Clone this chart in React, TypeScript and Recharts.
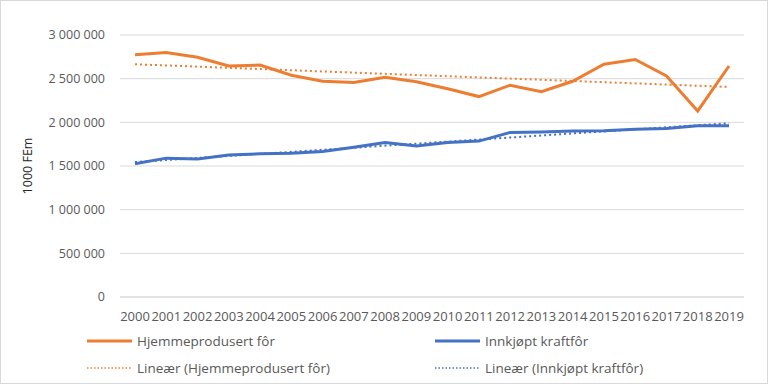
import React from 'react';
import { LineChart, Line, XAxis, YAxis, CartesianGrid, ReferenceLine } from 'recharts';

const years = ['2000','2001','2002','2003','2004','2005','2006','2007','2008','2009','2010','2011','2012','2013','2014','2015','2016','2017','2018','2019'];
const homeProduced = [2775000, 2800000, 2745000, 2645000, 2655000, 2540000, 2470000, 2455000, 2515000, 2465000, 2385000, 2295000, 2425000, 2350000, 2470000, 2665000, 2720000, 2530000, 2130000, 2645000];
const purchasedFeed = [1525000, 1590000, 1580000, 1625000, 1640000, 1645000, 1665000, 1715000, 1770000, 1730000, 1770000, 1785000, 1885000, 1890000, 1900000, 1905000, 1920000, 1930000, 1960000, 1960000];
const trendHomeEnds = [2665000, 2405000];
const trendPurchasedEnds = [1545000, 1990000];
const yTicks = [0, 500000, 1000000, 1500000, 2000000, 2500000, 3000000];

const seriesNames = ['Hjemmeprodusert fôr', 'Innkjøpt kraftfôr', 'Lineær (Hjemmeprodusert fôr)', 'Lineær (Innkjøpt kraftfôr)'];

const data = years.map((y, i) => ({ year: y, home: homeProduced[i], bought: purchasedFeed[i] }));

const ORANGE = '#ED7D31';
const BLUE = '#4472C4';
const FONT = '"Open Sans", "Liberation Sans", sans-serif';

const fmt = (v: number) => String(v).replace(/\B(?=(\d{3})+(?!\d))/g, ' ');

function LegendItem({ color, dashed, label, left, top }: { color: string; dashed: boolean; label: string; left: number; top: number }) {
  return (
    <div style={{ position: 'absolute', left, top, display: 'flex', alignItems: 'center', fontFamily: FONT, fontSize: 13.5, color: '#595959', whiteSpace: 'nowrap', lineHeight: '18px' }}>
      <svg width={46} height={6} style={{ marginRight: 5 }}>
        <line x1={1} y1={3} x2={46} y2={3} stroke={color} strokeWidth={dashed ? 1.5 : 3} strokeDasharray={dashed ? '1.5 2' : undefined} />
      </svg>
      <span>{label}</span>
    </div>
  );
}

export default function App() {
  return (
    <div style={{ position: 'fixed', left: 0, top: 0, width: 768, height: 384, background: '#fff', border: '1px solid #d9d9d9', boxSizing: 'border-box', overflow: 'hidden' }}>
      <div style={{ position: 'absolute', left: -1, top: -1 }}>
        <LineChart width={768} height={384} data={data} margin={{ top: 35, right: 24, bottom: 57, left: 0 }}>
          <CartesianGrid vertical={false} stroke="#d9d9d9" />
          <XAxis
            dataKey="year"
            interval={0}
            tickLine={false}
            axisLine={{ stroke: '#d9d9d9' }}
            height={30}
            tickMargin={9}
            padding={{ left: 15, right: 15 }}
            tick={{ fontFamily: FONT, fontSize: 13, fill: '#595959' }}
          />
          <YAxis
            width={120}
            domain={[0, 3000000]}
            ticks={yTicks}
            tickFormatter={fmt}
            axisLine={false}
            tickLine={false}
            tickMargin={9}
            tick={{ fontFamily: FONT, fontSize: 12.5, fill: '#595959' }}
            label={{ value: '1000 FEm', angle: -90, position: 'center', dx: -32, style: { fontFamily: FONT, fontSize: 12.5, fill: '#262626', textAnchor: 'middle' } }}
          />
          <Line type="linear" dataKey="home" name={seriesNames[0]} stroke={ORANGE} strokeWidth={3} dot={false} isAnimationActive={false} />
          <Line type="linear" dataKey="bought" name={seriesNames[1]} stroke={BLUE} strokeWidth={3} dot={false} isAnimationActive={false} />
          <ReferenceLine
            segment={[{ x: years[0], y: trendHomeEnds[0] }, { x: years[years.length - 1], y: trendHomeEnds[1] }]}
            stroke={ORANGE}
            strokeWidth={2}
            strokeDasharray="2 3"
            ifOverflow="visible"
          />
          <ReferenceLine
            segment={[{ x: years[0], y: trendPurchasedEnds[0] }, { x: years[years.length - 1], y: trendPurchasedEnds[1] }]}
            stroke={BLUE}
            strokeWidth={2}
            strokeDasharray="2 3"
            ifOverflow="visible"
          />
        </LineChart>
      </div>
      <LegendItem color={ORANGE} dashed={false} label={seriesNames[0]} left={85} top={331} />
      <LegendItem color={BLUE} dashed={false} label={seriesNames[1]} left={433} top={331} />
      <LegendItem color={ORANGE} dashed={true} label={seriesNames[2]} left={85} top={358} />
      <LegendItem color={BLUE} dashed={true} label={seriesNames[3]} left={433} top={358} />
    </div>
  );
}
